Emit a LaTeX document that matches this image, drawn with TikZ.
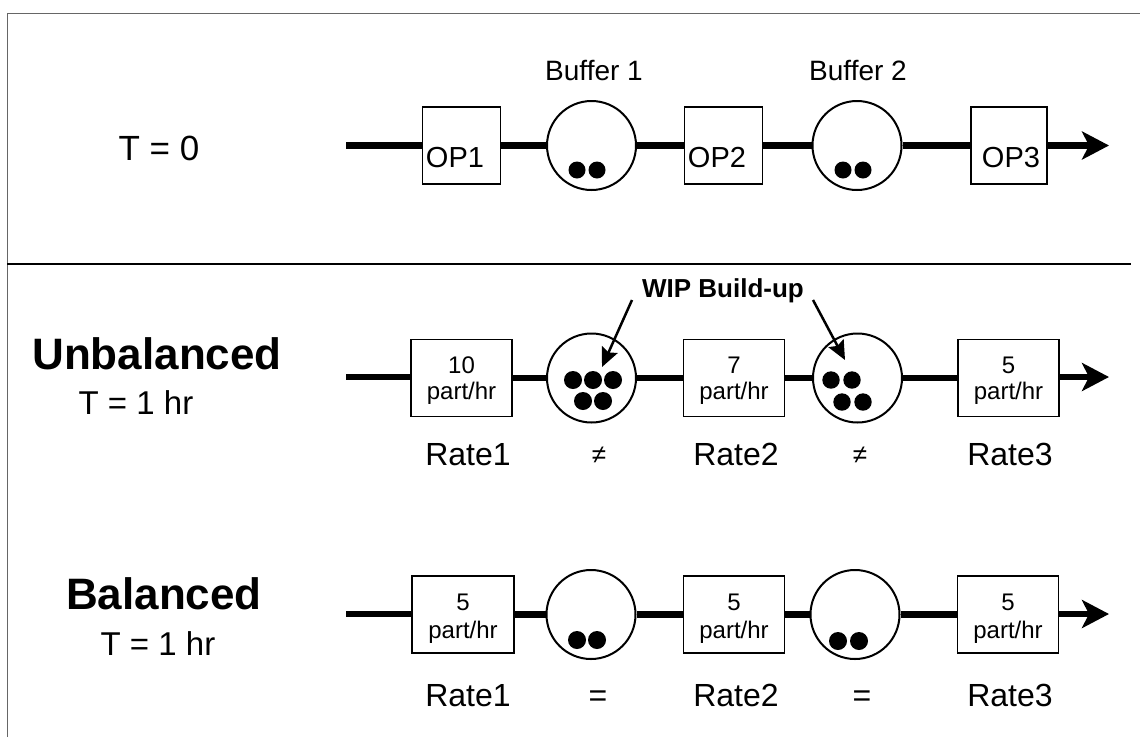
\documentclass[tikz,border=0pt]{standalone}
\usepackage{fontspec}
\setmainfont{Liberation Sans}
\usetikzlibrary{arrows.meta}
\begin{document}
\begin{tikzpicture}[x=1pt,y=-1pt,
  opbox/.style={draw, line width=1.5pt, fill=white, inner sep=0pt,
    minimum width=#1, minimum height=77pt},
  opbox/.default=101pt,
  buf/.style={draw, circle, line width=2pt, fill=white, inner sep=0pt, minimum size=89pt},
  flow/.style={line width=6.5pt},
  outarrow/.style={flow, -{Stealth[length=27pt,width=28pt,inset=7pt]}},
  callout/.style={line width=2.5pt, -{Stealth[length=19pt,width=17pt,inset=3pt]}},
  part/.style={fill=black},
  txt/.style={anchor=base, inner sep=0pt, font=\fontsize{32}{36}\selectfont},
  optxt/.style={anchor=base, inner sep=0pt, font=\fontsize{29}{34}\selectfont},
  numtxt/.style={anchor=base, inner sep=0pt, font=\fontsize{24}{28}\selectfont},
  ratetxt/.style={anchor=base, inner sep=0pt, font=\fontsize{24}{28}\selectfont},
  headtxt/.style={anchor=base, inner sep=0pt, font=\fontsize{44}{50}\selectfont\bfseries},
  reltxt/.style={anchor=base, inner sep=0pt, font=\fontsize{26}{30}\selectfont},
]
\useasboundingbox (0,0) rectangle (1140,737);

% page frame and separator
\draw[line width=1pt, black!60] (7,737) -- (7,13) -- (1140,13);
\coordinate (sepL) at (7,264);
\coordinate (sepR) at (1131,264);
\draw[line width=2pt] (sepL) -- (sepR);

% ---------- T = 0 ----------
\node[txt, font=\fontsize{35}{40}\selectfont] (t0) at (159,160) {T = 0};
\node[txt, font=\fontsize{28}{32}\selectfont] (buf1lbl) at (594,80) {Buffer 1};
\node[txt, font=\fontsize{28}{32}\selectfont] (buf2lbl) at (858,80) {Buffer 2};

\coordinate (s1) at (346,145.5);
\coordinate (e1) at (1109,145.5);
\node[opbox=78pt] (op1) at (461.5,145.5) {};
\node[buf] (b1) at (591.5,145.5) {};
\node[opbox=78pt] (op2) at (723.5,145.5) {};
\node[buf] (b2) at (857,145.5) {};
\node[opbox=76pt] (op3) at (1009,145.5) {};
\draw[flow] (s1) -- (op1);
\draw[flow] (op1) -- (b1);
\draw[flow] (b1) -- (op2);
\draw[flow] (op2) -- (b2);
\draw[flow] (b2) -- (op3);
\draw[outarrow] (op3) -- (e1);
\node[optxt] (op1t) at (455,167) {OP1};
\node[optxt] (op2t) at (717,167) {OP2};
\node[optxt] (op3t) at (1011,167) {OP3};
\fill[part] (577,170) circle[radius=8.5pt] (597,170) circle[radius=8.5pt];
\fill[part] (843,170) circle[radius=8.5pt] (863,170) circle[radius=8.5pt];

% ---------- Unbalanced ----------
\node[headtxt] (unb) at (157,369) {Unbalanced};
\node[txt, font=\fontsize{33}{38}\selectfont] (unbT) at (136,414) {T = 1 hr};

\coordinate (s2) at (346,377);
\coordinate (e2) at (1109,377);
\node[opbox] (u1) at (461.5,378) {};
\node[buf] (ub1) at (591.5,378) {};
\node[opbox] (u2) at (734,378) {};
\node[buf] (ub2) at (857.5,378) {};
\node[opbox] (u3) at (1008.5,378) {};
\draw[flow] (s2) -- (s2 -| u1.west);
\draw[flow] (u1) -- (ub1);
\draw[flow] (ub1) -- (u2);
\draw[flow] (u2) -- (ub2);
\draw[flow] (ub2) -- (u3);
\draw[outarrow] (u3.east |- e2) -- (e2);
\node[numtxt] (u1n) at (461.5,373) {10};
\node[ratetxt] (u1r) at (461.5,399) {part/hr};
\node[numtxt] (u2n) at (734,373) {7};
\node[ratetxt] (u2r) at (734,399) {part/hr};
\node[numtxt] (u3n) at (1008.5,373) {5};
\node[ratetxt] (u3r) at (1008.5,399) {part/hr};
\fill[part] (573,380) circle[radius=9pt] (593,380) circle[radius=9pt] (613,380) circle[radius=9pt]
            (583,401) circle[radius=9pt] (603,401) circle[radius=9pt];
\fill[part] (831,380) circle[radius=8.7pt] (852,380) circle[radius=8.7pt]
            (842,402) circle[radius=8.7pt] (863,402) circle[radius=8.7pt];

\node[anchor=base, inner sep=0pt, font=\fontsize{26}{30}\selectfont\bfseries] (wip) at (723,297) {WIP Build-up};
\coordinate (w1s) at (632,300);
\coordinate (w1e) at (602,367);
\coordinate (w2s) at (813,300);
\coordinate (w2e) at (845,360);
\draw[callout] (w1s) -- (w1e);
\draw[callout] (w2s) -- (w2e);

\node[txt] (ur1) at (468,465) {Rate1};
\node[reltxt] (un1) at (599,463) {≠};
\node[txt] (ur2) at (736,465) {Rate2};
\node[reltxt] (un2) at (860,463) {≠};
\node[txt] (ur3) at (1010,465) {Rate3};

% ---------- Balanced ----------
\node[headtxt] (bal) at (164,609) {Balanced};
\node[txt, font=\fontsize{33}{38}\selectfont] (balT) at (158,655) {T = 1 hr};

\coordinate (s3) at (346,614);
\coordinate (e3) at (1109,614);
\node[opbox=102pt] (bl1) at (463,614.5) {};
\node[buf] (bb1) at (591,614.5) {};
\node[opbox] (bl2) at (734,614.5) {};
\node[buf] (bb2) at (855,614.5) {};
\node[opbox] (bl3) at (1008,614.5) {};
\draw[flow] (s3) -- (s3 -| bl1.west);
\draw[flow] (bl1) -- (bb1);
\draw[flow] (bb1) -- (bl2);
\draw[flow] (bl2) -- (bb2);
\draw[flow] (bb2) -- (bl3);
\draw[outarrow] (bl3.east |- e3) -- (e3);
\node[numtxt] (bl1n) at (463,610) {5};
\node[ratetxt] (bl1r) at (463,638) {part/hr};
\node[numtxt] (bl2n) at (734,610) {5};
\node[ratetxt] (bl2r) at (734,638) {part/hr};
\node[numtxt] (bl3n) at (1008,610) {5};
\node[ratetxt] (bl3r) at (1008,638) {part/hr};
\fill[part] (577,640) circle[radius=9pt] (597,640) circle[radius=9pt];
\fill[part] (838,641) circle[radius=9pt] (859,641) circle[radius=9pt];

\node[txt] (br1) at (468,706) {Rate1};
\node[txt] (be1) at (598,706) {=};
\node[txt] (br2) at (736,706) {Rate2};
\node[txt] (be2) at (862,706) {=};
\node[txt] (br3) at (1010,706) {Rate3};
\end{tikzpicture}
\end{document}
